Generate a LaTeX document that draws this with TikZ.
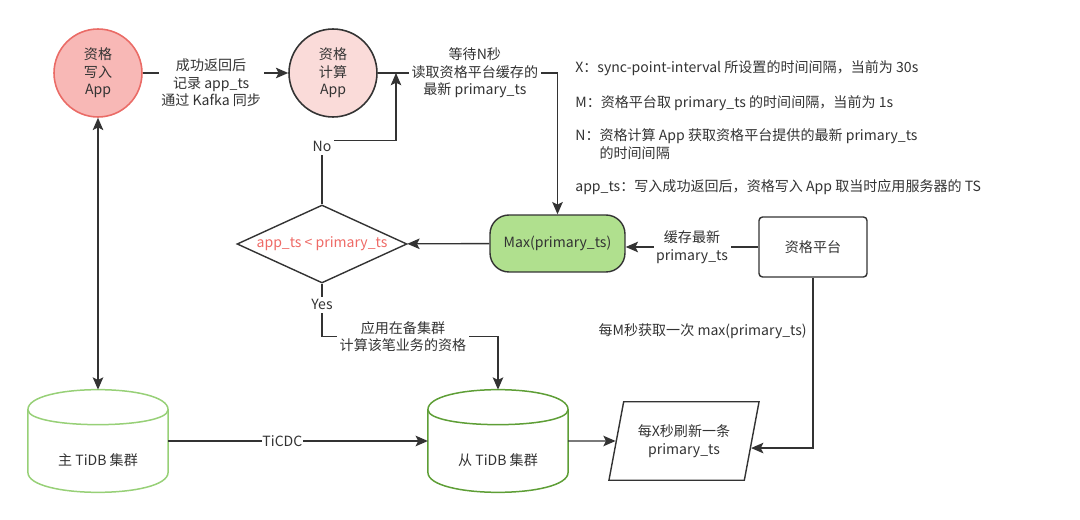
\documentclass[tikz,border=0pt]{standalone}
\usepackage{fontspec}
\setmainfont{Noto Sans CJK SC}
\usetikzlibrary{arrows.meta,positioning,shapes.geometric,calc}
\definecolor{ink}{HTML}{333333}
\definecolor{wfill}{HTML}{F8B8B6}
\definecolor{wline}{HTML}{EA6B66}
\definecolor{cfill}{HTML}{FADBD9}
\definecolor{mfill}{HTML}{B0E08E}
\definecolor{hot}{HTML}{EE6A66}
\definecolor{dbA}{HTML}{97D077}
\definecolor{dbB}{HTML}{5E9E36}
\tikzset{
  >={Stealth[length=7pt, width=6pt, inset=1.5pt]},
  app/.style={circle, draw=ink, line width=0.9pt, minimum size=1.76cm, inner sep=0pt, align=center, text=ink},
  dec/.style={diamond, draw=ink, line width=0.8pt, minimum width=3.4cm, minimum height=1.56cm, inner sep=0pt, aspect=2.2, text=hot},
  pill/.style={rectangle, rounded corners=0.38cm, draw=ink, line width=0.8pt, fill=mfill, minimum width=2.7cm, minimum height=1.14cm, text=ink},
  platbox/.style={rectangle, rounded corners=2pt, draw=ink, line width=0.8pt, minimum width=2.16cm, minimum height=1.2cm, text=ink},
  para/.style={trapezium, trapezium left angle=71, trapezium right angle=109, trapezium stretches=true, draw=ink, line width=0.8pt, minimum width=3.02cm, minimum height=1.57cm, inner sep=0pt, align=center, text=ink},
  drum/.style={rectangle, minimum width=2.79cm, minimum height=2.04cm, inner sep=0pt},
  link/.style={->, line width=0.8pt, draw=ink},
  lbl/.style={fill=white, inner sep=1.5pt, align=center, text=ink},
  note/.style={anchor=west, inner sep=0pt, align=left, text=ink},
}
\newcommand{\dbdrum}[2]{%
  \draw[#2, line width=0.85pt] ($(#1.north west)+(0,20)$) .. controls ($(#1.north west)+(0,-6.67)$) and ($(#1.north east)+(0,-6.67)$) .. ($(#1.north east)+(0,20)$)
    -- ($(#1.south east)+(0,-20)$) .. controls ($(#1.south east)+(0,6.67)$) and ($(#1.south west)+(0,6.67)$) .. ($(#1.south west)+(0,-20)$) -- cycle;
  \draw[#2, line width=0.85pt] ($(#1.north west)+(0,20)$) .. controls ($(#1.north west)+(0,40)$) and ($(#1.north east)+(0,40)$) .. ($(#1.north east)+(0,20)$);}

\begin{document}
\begin{tikzpicture}[x=0.02cm, y=-0.02cm, font=\fontsize{8}{10}\selectfont]
  \useasboundingbox (0,0) rectangle (1080,520);
  % boxes
  \node[app, fill=wfill, draw=wline] (write) at (98,73) {资格\\写入\\App};
  \node[app, fill=cfill] (comp) at (333,73) {资格\\计算\\App};
  \node[pill] (maxts) at (557.5,243.5) {Max(primary\_ts)};
  \node[dec] (cond) at (322,244) {app\_ts < primary\_ts};
  \node[platbox] (src) at (813,247) {资格平台};
  \node[drum, label={[text=ink, yshift=-0.38cm]center:主 TiDB 集群}] (master) at (98,441) {};
  \node[drum, label={[text=ink, yshift=-0.38cm]center:从 TiDB 集群}] (slave) at (498,441) {};
  \node[para] (tsrow) at (684,441) {每X秒刷新一条\\primary\_ts};
  \dbdrum{master}{dbA}
  \dbdrum{slave}{dbB}
  % notes
  \node[note] (nx) at (575,68) {X：sync-point-interval 所设置的时间间隔，当前为 30s};
  \node[note] (nm) at (575,103) {M：资格平台取 primary\_ts 的时间间隔，当前为 1s};
  \node[note] (nn) at (575,144) {N：资格计算 App 获取资格平台提供的最新 primary\_ts\\\phantom{N：}的时间间隔};
  \node[note] (na) at (575,187) {app\_ts：写入成功返回后，资格写入 App 取当时应用服务器的 TS};
  % links
  \draw[link] (write) -- node[lbl, pos=0.47, yshift=-0.2cm] {成功返回后\\记录 app\_ts\\通过 Kafka 同步} (comp);
  \draw[link] (comp.east) -| node[lbl, pos=0.27] {等待N秒\\读取资格平台缓存的\\最新 primary\_ts} (maxts.north);
  \coordinate (back) at (396,73);
  \draw[link] (cond.north) -- node[lbl, pos=0.9] {No} ++(0,-64) -| (back);
  \draw[link] (maxts) -- (cond);
  \draw[link] (src.west) -- node[lbl] {缓存最新\\primary\_ts} (src.west -| maxts.east);
  \draw[link] (src.south) |- node[lbl, anchor=east, fill=none, pos=0.156, xshift=-0.06cm] {每M秒获取一次 max(primary\_ts)} (tsrow.-6);
  \draw[link] (cond.south) -- node[lbl, pos=0.4] {Yes} ++(0,53) -| node[lbl, pos=0.23] {应用在备集群\\计算该笔业务的资格} (slave.north);
  \draw[link, <->] (write) -- (master);
  \draw[link] (master) -- node[lbl, pos=0.44, inner sep=0.5pt] {TiCDC} (slave);
  \draw[link] (slave) -- (tsrow);
\end{tikzpicture}
\end{document}
